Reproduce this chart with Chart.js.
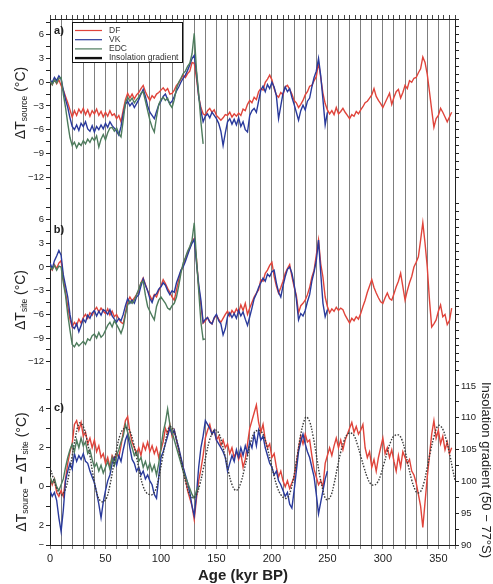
<!DOCTYPE html>
<html>
<head>
<meta charset="utf-8">
<script src="https://cdn.jsdelivr.net/npm/chart.js@4.4.1/dist/chart.umd.min.js"></script>
<style>
  html, body { margin: 0; padding: 0; background: #fff; }
</style>
</head>
<body>
<canvas id="chart" width="493" height="584"></canvas>
<script>
// ages (kyr BP) of the temperature records, 2 kyr steps
const AGE = [
  0, 2, 4, 6, 8, 10, 12, 14, 16, 18,
  20, 22, 24, 26, 28, 30, 32, 34, 36, 38,
  40, 42, 44, 46, 48, 50, 52, 54, 56, 58,
  60, 62, 64, 66, 68, 70, 72, 74, 76, 78,
  80, 82, 84, 86, 88, 90, 92, 94, 96, 98,
  100, 102, 104, 106, 108, 110, 112, 114, 116, 118,
  120, 122, 124, 126, 128, 130, 132, 134, 136, 138,
  140, 142, 144, 146, 148, 150, 152, 154, 156, 158,
  160, 162, 164, 166, 168, 170, 172, 174, 176, 178,
  180, 182, 184, 186, 188, 190, 192, 194, 196, 198,
  200, 202, 204, 206, 208, 210, 212, 214, 216, 218,
  220, 222, 224, 226, 228, 230, 232, 234, 236, 238,
  240, 242, 244, 246, 248, 250, 252, 254, 256, 258,
  260, 262, 264, 266, 268, 270, 272, 274, 276, 278,
  280, 282, 284, 286, 288, 290, 292, 294, 296, 298,
  300, 302, 304, 306, 308, 310, 312, 314, 316, 318,
  320, 322, 324, 326, 328, 330, 332, 334, 336, 338,
  340, 342, 344, 346, 348, 350, 352, 354, 356, 358,
  360, 362
];

// panel a) dT source
const DF_A = [
  0.2, -0.3, 0.4, -0.2, 0.3, -0.4, -1.0, -1.8, -2.6, -3.5,
  -4.4, -3.6, -4.2, -3.4, -3.9, -3.3, -4.1, -3.5, -4.3, -3.6,
  -4.0, -3.4, -4.2, -3.7, -4.4, -3.8, -4.3, -3.6, -4.2, -4.0,
  -4.6, -4.2, -5.0, -3.5, -2.2, -1.4, -2.0, -1.5, -2.1, -1.6,
  -1.3, -0.8, -0.4, -1.2, -1.8, -2.3, -1.7, -2.0, -1.5, -1.3,
  -1.0, -0.7, -1.1, -0.8, -1.5, -1.4, -1.0, -0.4, -0.1, 0.4,
  0.9, 0.6, 1.1, 1.4, 2.5, 2.4, 0.5, -1.8, -3.2, -4.0,
  -4.2, -3.6, -3.3, -3.8, -3.5, -4.2, -4.5, -4.8, -4.5, -4.1,
  -4.2, -3.8, -4.4, -4.0, -4.3, -3.9, -4.2, -3.4, -3.6, -2.8,
  -2.3, -2.6, -1.9, -2.2, -1.2, -0.8, -1.0, 0.0, 0.4, 0.9,
  0.3, -0.8, -1.6, -1.9, -1.3, -1.6, -0.6, -0.4, -0.9, -1.5,
  -2.3, -2.6, -3.2, -2.8, -2.3, -1.6, -1.2, -0.5, -0.4, 0.2,
  0.7, 2.5, 0.6, -1.4, -2.7, -3.5, -4.0, -3.6, -4.1, -3.2,
  -4.0, -3.7, -3.3, -3.8, -4.2, -4.6, -4.1, -4.3, -3.7, -4.0,
  -3.5, -3.1, -2.6, -2.4, -2.0, -1.6, -0.8, -1.8, -2.3, -2.7,
  -3.2, -2.6, -2.0, -1.4, -2.8, -1.9, -1.2, -0.9, -2.0, -1.3,
  -0.4, -0.8, 0.2, 0.0, 0.5, 0.6, 1.2, 1.7, 3.2, 2.5,
  1.0, -1.2, -3.5, -5.7, -4.6, -4.2, -3.3, -3.8, -4.4, -5.0,
  -4.4, -3.8
];
const VK_A = [
  0.3, 0.0, 0.6, 0.2, 0.8, 0.4, -1.0, -2.2, -3.2, -4.5,
  -5.6, -6.0, -5.4, -6.1, -5.2, -5.6, -5.0, -5.9, -6.2, -5.5,
  -6.3, -5.6, -6.0, -5.4, -5.9, -5.2, -5.7, -5.0, -5.5, -5.8,
  -6.2, -6.7, -5.6, -4.0, -2.8, -2.4, -3.0, -2.6, -3.2, -2.7,
  -2.2, -1.5, -0.9, -1.8, -3.0, -3.8, -4.2, -4.6, -3.7, -2.9,
  -2.4, -1.8, -1.5, -2.2, -2.7, -2.4, -1.8, -1.1, -0.6, 0.0,
  0.5, 0.9, 1.5, 2.2, 3.0, 3.4, 1.2, -1.8, -3.6, -5.0,
  -4.3, -4.0, -4.5, -3.8, -4.2, -4.6, -5.2, -6.2, -8.0, -6.4,
  -5.0, -4.6, -5.3, -4.7, -5.4, -4.5, -5.6, -5.0, -6.0, -6.3,
  -4.2, -3.6, -3.3, -3.8, -2.4, -1.0, -0.5, -1.2, -0.3, -0.8,
  0.0, -0.6, -1.7, -4.6, -3.0, -1.4, -0.6, -1.2, -0.8, -1.9,
  -2.8, -3.8, -4.8, -3.6, -2.9, -3.5, -2.4, -2.0, -0.6, 0.6,
  1.4, 3.0, 0.8, -2.2, -5.4, -3.8
];
const EDC_A = [
  0.2, -0.3, 0.3, -0.1, 0.5, 0.6, -1.5, -3.2, -5.2, -7.0,
  -8.0, -7.6, -8.3, -7.7, -8.0, -7.4, -7.8, -7.2, -7.6, -7.0,
  -7.4, -6.8, -8.2, -7.2, -6.6, -7.3, -6.4, -5.8, -5.7, -6.2,
  -5.8, -6.5, -6.9, -4.8, -2.6, -1.9, -2.4, -2.0, -2.6, -2.2,
  -1.9, -1.4, -1.2, -2.4, -3.6, -4.8, -5.7, -6.3, -4.4, -2.8,
  -2.2, -1.9, -2.3, -2.0, -2.8, -3.2, -2.2, -0.8, 0.0, 0.5,
  1.1, 1.4, 2.0, 2.4, 3.6, 6.2, 1.5, -1.4, -5.0, -7.8
];

// panel b) dT site
const DF_B = [
  0.0, -0.4, 0.3, -0.2, 0.5, 0.8, -1.5, -3.2, -5.0, -6.6,
  -7.6, -7.0, -7.4, -6.6, -7.1, -6.4, -6.0, -6.5, -5.8, -6.1,
  -5.5, -5.1, -5.7, -5.2, -5.6, -5.9, -5.3, -6.1, -5.6, -6.3,
  -6.0, -6.6, -7.0, -7.2, -5.8, -4.4, -3.8, -4.3, -3.9, -3.5,
  -3.0, -2.0, -1.4, -2.2, -3.0, -3.6, -4.2, -3.5, -3.8, -3.0,
  -2.4, -1.6, -2.1, -2.7, -3.2, -3.8, -4.2, -2.9, -1.6, -0.5,
  0.2, 1.0, 1.8, 2.4, 3.3, 3.6, 1.0, -2.5, -4.8, -7.1,
  -6.8, -6.4, -6.9, -7.2, -6.5, -6.1, -6.6, -7.0, -6.5, -6.0,
  -5.6, -6.2, -5.5, -5.9, -5.3, -5.8, -4.8, -5.5, -4.6, -6.0,
  -5.2, -4.5, -3.8, -3.3, -2.9, -1.6, -1.8, -0.8, -0.4, 0.2,
  0.6, -1.2, -2.4, -3.3, -2.6, -1.8, -0.8, -0.2, 0.3, -1.2,
  -2.5, -3.6, -5.8, -4.9, -4.6, -4.2, -3.5, -2.6, -1.3, -0.4,
  1.5, 3.4, 0.4, -1.3, -3.8, -5.0, -5.8, -5.3, -5.6, -5.1,
  -5.5, -5.2, -5.4, -6.1, -6.6, -7.1, -6.5, -6.8, -6.3, -6.6,
  -5.9, -5.0, -4.2, -3.2, -2.4, -1.6, -2.6, -3.3, -3.9, -4.4,
  -4.6, -3.9, -3.3, -4.0, -4.2, -3.4, -2.5, -1.8, -0.8, -2.5,
  -4.2, -3.0, -2.0, -1.2, 0.0, 0.6, 1.3, 3.4, 5.6, 3.0,
  0.0, -4.2, -7.6, -7.2, -6.7, -5.6, -4.8, -6.3, -6.0, -7.3,
  -6.8, -5.2
];
const VK_B = [
  0.5, -0.2, 0.8, 1.4, 2.1, 1.5, -1.0, -2.4, -3.8, -6.0,
  -7.5, -7.8, -7.2, -8.2, -7.4, -6.6, -7.0, -6.1, -6.5, -5.8,
  -5.5, -6.2, -5.6, -6.1, -5.4, -5.6, -6.0, -5.4, -6.2, -6.6,
  -7.0, -6.5, -6.8, -6.0, -4.9, -4.0, -4.6, -4.2, -4.6, -3.8,
  -3.5, -2.4, -1.5, -2.3, -3.0, -4.0, -4.5, -3.6, -3.4, -2.8,
  -2.5, -2.0, -2.3, -3.0, -3.5, -3.0, -3.2, -2.0, -1.2, -0.4,
  0.0, 0.7, 1.5, 2.3, 3.0, 3.5, 0.5, -2.2, -4.2, -7.0,
  -6.6, -6.4, -7.0, -7.2, -6.4, -6.0, -6.8, -7.2, -8.6, -7.8,
  -6.3, -5.8, -6.4, -5.9, -6.5, -5.5, -6.2, -5.7, -6.6, -7.4,
  -6.3, -5.2, -4.0, -3.4, -2.6, -2.0, -1.4, -1.8, -0.9, -1.2,
  -0.6, -0.4, -2.0, -3.2, -3.8, -2.4, -1.2, -0.3, 0.0, -0.8,
  -2.2, -4.0, -6.7, -5.9, -6.2, -5.5, -4.4, -3.5, -1.8, -0.6,
  0.8, 3.4, -0.8, -4.6, -6.3, -5.4
];
const EDC_B = [
  0.0, -0.3, 0.2, -0.4, 0.1, 0.0, -2.0, -3.6, -6.0, -8.0,
  -9.8, -10.1, -9.6, -10.0, -9.7, -9.4, -9.8, -9.1, -9.3, -8.7,
  -8.5, -9.0, -8.3, -8.9, -8.6, -8.0, -7.4, -7.0, -7.6, -6.8,
  -7.3, -7.8, -8.4, -7.6, -6.0, -4.8, -4.3, -4.6, -4.2, -3.5,
  -2.8, -2.0, -1.8, -3.6, -5.0, -5.6, -6.2, -6.7, -5.0, -4.2,
  -3.8, -4.2, -4.6, -5.2, -5.4, -4.9, -4.6, -3.8, -2.4, -0.8,
  0.5, 1.2, 2.0, 2.6, 3.4, 5.6, 1.0, -3.0, -7.0, -9.2,
  -9.1
];

// panel c) dT source - dT site
const DF_C = [
  0.5, 0.1, 0.4, -0.3, -0.5, -0.2, -0.5, 0.4, 1.2, 1.8,
  2.2, 3.2, 3.4, 2.9, 3.3, 2.6, 2.8, 2.2, 2.5, 2.0,
  2.4, 1.8, 2.1, 1.5, 1.7, 1.2, 1.5, 1.0, 1.6, 1.4,
  1.7, 1.5, 2.1, 2.8, 3.4, 3.6, 2.8, 2.3, 2.0, 1.7,
  2.0, 1.6, 2.2, 1.9, 2.3, 1.8, 2.1, 1.7, 2.0, 1.5,
  1.9, 2.3, 3.0, 2.7, 3.2, 2.6, 2.9, 2.4, 1.9, 1.4,
  1.0, 0.4, -0.2, -0.6, -1.0, -1.7, -0.6, 0.3, 0.9, 1.6,
  2.5, 2.9, 3.2, 2.7, 2.9, 2.4, 2.6, 2.1, 2.4, 2.0,
  2.2, 1.7, 2.0, 1.5, 1.8, 1.4, 1.7, 1.0, 1.4, 2.2,
  3.0, 3.4, 3.8, 4.2, 3.3, 2.8, 3.2, 2.4, 2.0, 2.2,
  1.5, 1.7, 1.0, 0.5, 0.8, 0.3, 0.0, 0.3, -0.1, 0.2,
  0.5, 1.2, 2.0, 2.6, 2.2, 2.7, 2.3, 2.4, 1.6, 0.9,
  0.5, 0.1, 0.3, 0.0, 1.2, 1.6, 2.0, 1.6, 2.1, 2.5,
  2.0, 2.4, 1.9, 2.4, 2.7, 3.0, 3.3, 2.8, 3.1, 2.7,
  2.9, 3.2, 2.0, 1.5, 1.8, 1.0, 1.4, 0.8, 1.5, 2.0,
  2.5, 1.7, 2.0, 1.5, 1.9, 1.3, 0.8, 1.6, 1.0, 1.8,
  1.5, 1.2, 1.4, 0.8, 0.6, 0.2, -0.4, -1.0, -2.1, -0.8,
  0.5, 1.6, 2.7, 3.4, 2.5, 2.9, 2.2, 2.6, 1.9, 2.3,
  1.7, 2.0
];
const VK_C = [
  -0.2, -0.5, -0.3, -0.7, -1.6, -2.3, -1.2, 0.3, 0.8, 1.2,
  0.9, 1.7, 1.3, 1.6, 1.4, 1.7, 1.3, 1.2, 0.8, 0.5,
  0.2, -0.3, -0.9, -1.6, -0.8, -0.2, 0.3, 0.6, 1.2, 1.5,
  1.1, 1.6, 1.3, 1.9, 2.4, 2.7, 2.0, 1.4, 1.2, 0.8,
  1.0, 0.6, 0.8, 0.4, 0.6, 0.3, 0.1, -0.4, -0.6, 0.5,
  1.5, 1.8, 2.2, 2.6, 3.0, 2.7, 2.9, 2.4, 2.0, 1.5,
  1.0, 0.6, 0.2, -0.3, -1.0, -1.5, -0.4, 1.0, 2.0, 2.6,
  3.4, 3.2, 3.0, 2.7, 2.9, 2.4, 2.2, 2.0, 1.8, 1.5,
  0.8, 1.2, 1.6, 1.3, 1.9, 1.5, 2.0, 1.6, 2.1, 1.7,
  2.3, 2.0, 2.7, 2.1, 2.9, 2.4, 2.6, 2.0, 1.6, 1.2,
  1.0, 0.6, 0.8, 0.3, 0.1, -0.2, -0.5, -0.3, -0.9, -1.1,
  -0.2, 0.8, 1.8, 2.3, 2.7, 2.2, 1.8, 1.5, 1.0, 0.5,
  -0.4, -1.4, -0.8, -0.2, 0.4, 0.8
];
const EDC_C = [
  0.5, 0.2, 0.4, 0.0, -0.2, 0.1, 0.4, 1.0, 1.5, 1.9,
  2.2, 1.8, 2.4, 2.0, 2.5, 2.1, 2.3, 1.7, 1.9, 1.4,
  1.0, 1.2, 0.8, 1.1, 0.7, 1.0, 1.3, 0.9, 1.5, 1.1,
  1.6, 1.9, 2.3, 2.6, 3.2, 2.8, 2.4, 2.0, 1.6, 1.8,
  1.3, 1.5, 1.0, 1.3, 0.9, 1.2, 0.8, 1.1, 0.6, 1.2,
  2.0, 2.8, 3.3, 4.0, 3.2, 2.8, 2.4, 2.0, 1.6, 1.2,
  0.8, 0.5, 0.2, -0.1, -0.4, -0.6, -0.2, 0.0
];

// insolation gradient 50-77°S (right axis of panel c)
const INS_AGE = [
  0, 3, 6, 9, 11, 14, 17, 20, 23, 25,
  27, 30, 33, 36, 39, 42, 45, 48, 51, 54,
  57, 60, 63, 66, 69, 72, 75, 78, 81, 84,
  87, 90, 92, 95, 98, 101, 104, 106, 108, 111,
  114, 117, 120, 123, 126, 129, 132, 135, 138, 141,
  144, 147, 149, 152, 155, 158, 161, 164, 167, 169,
  172, 175, 178, 181, 184, 187, 190, 193, 196, 199,
  202, 205, 208, 211, 214, 217, 220, 223, 226, 229,
  231, 234, 237, 240, 243, 246, 248, 250, 253, 256,
  259, 262, 265, 268, 271, 274, 277, 280, 283, 286,
  289, 292, 295, 298, 301, 304, 307, 310, 314, 317,
  320, 323, 326, 329, 331, 334, 337, 340, 343, 346,
  349, 351, 354, 357, 360, 363, 365
];
const INS_VAL = [
  102.2, 100.5, 98.9, 98.0, 97.9, 98.8, 101.0, 104.0, 107.0, 108.6,
  109.2, 108.6, 106.8, 104.0, 100.8, 98.3, 97.0, 96.8, 97.4, 99.4,
  102.2, 105.0, 107.2, 108.2, 108.4, 107.9, 106.2, 103.8, 101.2, 99.2,
  98.2, 97.9, 97.9, 98.6, 100.6, 103.3, 106.2, 107.8, 108.6, 108.2,
  106.6, 104.2, 101.6, 99.4, 97.9, 97.4, 97.9, 99.5, 101.8, 104.4,
  106.6, 107.8, 108.1, 107.6, 106.0, 103.8, 101.4, 99.5, 98.6, 98.7,
  99.8, 101.8, 104.0, 106.2, 107.6, 108.0, 107.9, 107.0, 105.2, 103.0,
  100.8, 99.0, 97.9, 97.4, 97.4, 98.6, 101.0, 104.2, 107.4, 109.5,
  110.1, 109.4, 107.2, 104.2, 101.0, 98.6, 97.4, 97.1, 97.7, 99.6,
  102.2, 104.6, 106.4, 107.4, 107.6, 107.2, 105.8, 104.0, 102.2, 100.6,
  99.6, 99.4, 99.8, 101.0, 102.8, 104.6, 106.2, 107.1, 107.3, 106.6,
  104.8, 102.4, 100.2, 98.7, 98.2, 98.4, 99.8, 102.2, 104.8, 107.0,
  108.6, 108.8, 108.2, 106.6, 104.4, 101.8, 100.2
];

// tick values / labels
const A_TICKS = [-13.5, -12, -10.5, -9, -7.5, -6, -4.5, -3, -1.5, 0, 1.5, 3, 4.5, 6, 7.5];
const B_TICKS = [-12, -10.5, -9, -7.5, -6, -4.5, -3, -1.5, 0, 1.5, 3, 4.5, 6, 7.5];
const C_TICKS = [-3, -2, -1, 0, 1, 2, 3, 4, 5];
const C_LABELS = ['−', '2', '', '0', '', '2', '', '4', ''];
const R_TICKS = [-12, -11, -10, -9, -8, -7, -6, -5, -4, -3, -2, -1, 0, 1, 2, 3, 4, 5, 6, 7, 8];
const INS_TICKS = [90, 92.5, 95, 97.5, 100, 102.5, 105, 107.5, 110, 112.5, 115, 117.5];

const RED = '#e0443b', BLUE = '#2a3a9c', GREEN = '#4e7c5d', INK = '#222';
const FONT = 'Arial, "Liberation Sans", Helvetica, sans-serif';
Chart.defaults.font.family = FONT;

const pts = vals => vals.map((v, i) => ({ x: AGE[i], y: v }));
const fmt = v => (v < 0 ? '−' + Math.abs(v) : String(v));
const setTicks = list => axis => { axis.ticks = list.map(v => ({ value: v })); };

function line(label, vals, color, axis, order) {
  return {
    label, data: pts(vals), yAxisID: axis, xAxisID: 'x',
    borderColor: color, borderWidth: 1.4, pointRadius: 0, tension: 0, order
  };
}

function yAxis(pos, weight, stackWeight, min, max, ticks, cb, width) {
  return {
    type: 'linear', position: pos, stack: pos, stackWeight, weight,
    min, max, bounds: 'data',
    afterBuildTicks: setTicks(ticks),
    afterFit: s => { s.width = width; },
    ticks: { autoSkip: false, callback: cb, font: { size: 9.5 }, color: INK, padding: 2 },
    grid: { drawOnChartArea: false, drawTicks: true, tickLength: 4, color: INK },
    border: { color: INK, width: 1 }
  };
}

// axis titles, panel letters and legend drawn on top
function rich(ctx, parts, cx, cy, angle) {
  ctx.save();
  ctx.translate(cx, cy);
  ctx.rotate(angle);
  ctx.textBaseline = 'middle';
  ctx.textAlign = 'left';
  let w = 0;
  const m = parts.map(([t, size, dy, bold]) => {
    ctx.font = (bold ? 'bold ' : '') + size + 'px ' + FONT;
    const pw = ctx.measureText(t).width;
    w += pw;
    return { t, font: ctx.font, dy: dy || 0, pw };
  });
  let x = -w / 2;
  m.forEach(p => { ctx.font = p.font; ctx.fillText(p.t, x, p.dy); x += p.pw; });
  ctx.restore();
}

const decor = {
  id: 'decor',
  afterDraw(chart) {
    const ctx = chart.ctx;
    ctx.save();
    ctx.fillStyle = INK;
    rich(ctx, [['ΔT', 14], ['source', 8.5, 4], [' (°C)', 14]], 21, 103, -Math.PI / 2);
    rich(ctx, [['ΔT', 14], ['site', 8.5, 4], [' (°C)', 14]], 21, 300, -Math.PI / 2);
    rich(ctx, [['ΔT', 14], ['source', 8.5, 4], [' − ', 14, 0, true], ['ΔT', 14], ['site', 8.5, 4], [' (°C)', 14]], 22, 472, -Math.PI / 2);
    rich(ctx, [['Insolation gradient (50 − 77°S)', 13]], 486, 470, Math.PI / 2);
    rich(ctx, [['Age (kyr BP)', 15, 0, true]], 243, 576, 0);
    rich(ctx, [['a)', 11, 0, true]], 59, 31, 0);
    rich(ctx, [['b)', 11, 0, true]], 59, 230, 0);
    rich(ctx, [['c)', 11, 0, true]], 59, 408, 0);

    // legend
    const rows = [
      ['DF', RED, 1.2], ['VK', BLUE, 1.2], ['EDC', GREEN, 1.2], ['Insolation gradient', '#111', 2.4]
    ];
    ctx.fillStyle = '#fff';
    ctx.fillRect(72, 22, 111, 41);
    ctx.strokeStyle = '#111';
    ctx.lineWidth = 1;
    ctx.strokeRect(72.5, 22.5, 110, 40);
    ctx.font = '8.5px ' + FONT;
    ctx.textBaseline = 'middle';
    ctx.textAlign = 'left';
    rows.forEach(([t, c, lw], i) => {
      const y = 30.5 + i * 9.2;
      ctx.strokeStyle = c;
      ctx.lineWidth = lw;
      ctx.beginPath();
      ctx.moveTo(75, y);
      ctx.lineTo(102, y);
      ctx.stroke();
      ctx.fillStyle = '#333';
      ctx.fillText(t, 109, y);
    });
    ctx.restore();
  }
};

new Chart(document.getElementById('chart'), {
  type: 'line',
  data: {
    datasets: [
      {
        label: 'Insolation gradient', data: INS_AGE.map((a, i) => ({ x: a, y: INS_VAL[i] })),
        yAxisID: 'cR', xAxisID: 'x', borderColor: '#3a3a3a', borderWidth: 1.4,
        borderDash: [1.5, 1.5], pointRadius: 0, tension: 0.4, order: 0
      },
      line('EDC', EDC_A, GREEN, 'a', 1),
      line('VK', VK_A, BLUE, 'a', 2),
      line('DF', DF_A, RED, 'a', 3),
      line('EDC', EDC_B, GREEN, 'b', 1),
      line('VK', VK_B, BLUE, 'b', 2),
      line('DF', DF_B, RED, 'b', 3),
      line('EDC', EDC_C, GREEN, 'c', 1),
      line('VK', VK_C, BLUE, 'c', 2),
      line('DF', DF_C, RED, 'c', 3)
    ]
  },
  options: {
    responsive: false,
    animation: false,
    events: [],
    layout: { padding: 0 },
    plugins: { legend: { display: false }, tooltip: { enabled: false } },
    scales: {
      x: {
        type: 'linear', position: 'bottom', min: 0, max: 365, bounds: 'data',
        afterFit: s => { s.height = 39; },
        ticks: {
          stepSize: 10, includeBounds: false, autoSkip: false, maxRotation: 0,
          callback: v => (v % 50 === 0 ? v : ''), font: { size: 11 }, color: INK, padding: 3
        },
        grid: { color: 'rgba(105,105,105,0.85)', lineWidth: 1, tickLength: 4 },
        border: { color: INK, width: 1 }
      },
      xTop: {
        type: 'linear', position: 'top', min: 0, max: 365, bounds: 'data',
        afterFit: s => { s.height = 19; },
        ticks: { stepSize: 5, includeBounds: false, autoSkip: false, callback: () => '' },
        grid: { drawOnChartArea: false, tickLength: 4, color: '#444' },
        border: { color: INK, width: 1 }
      },
      a: yAxis('left', 3, 181, -14.9, 8, A_TICKS, v => (v % 3 === 0 ? fmt(v) : ''), 50),
      b: yAxis('left', 2, 170, -13.04, 8.48, B_TICKS, v => (v % 3 === 0 ? fmt(v) : ''), 50),
      c: yAxis('left', 1, 175, -3, 6, C_TICKS, (v, i) => C_LABELS[i], 50),
      aR: yAxis('right', 1, 181, -14.9, 8, R_TICKS, () => '', 38),
      bR: yAxis('right', 2, 170, -13.04, 8.48, R_TICKS, () => '', 38),
      cR: yAxis('right', 3, 175, 90, 117.5, INS_TICKS, v => (v % 5 === 0 ? String(v) : ''), 38)
    }
  },
  plugins: [decor]
});
</script>
</body>
</html>
